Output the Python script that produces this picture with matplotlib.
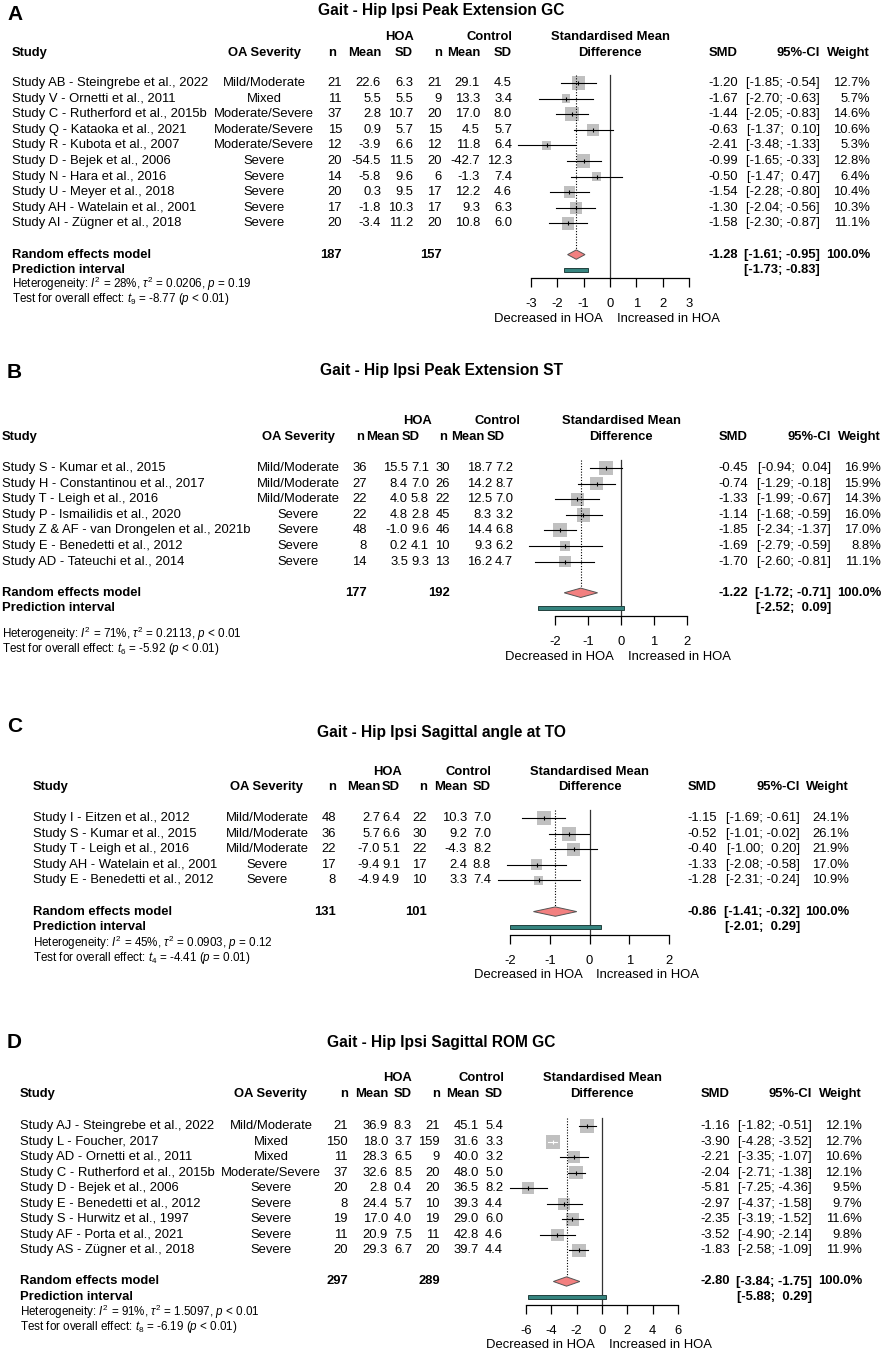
import matplotlib.pyplot as plt
import numpy as np

plt.rcParams['font.family'] = ['Liberation Sans', 'DejaVu Sans']
plt.rcParams['mathtext.fontset'] = 'custom'
plt.rcParams['mathtext.rm'] = 'Liberation Sans'
plt.rcParams['mathtext.it'] = 'Liberation Sans:italic'
plt.rcParams['mathtext.bf'] = 'Liberation Sans:bold'
plt.rcParams['axes.unicode_minus'] = False

W, H = 883, 1350
FS = 9.4
FS_HET = 8.4
FS_TITLE = 11.2

# ---------------- panel A ----------------
a_title = 'Gait - Hip Ipsi Peak Extension GC'
a_study = ['Study AB - Steingrebe et al., 2022', 'Study V - Ornetti et al., 2011',
           'Study C - Rutherford et al., 2015b', 'Study Q - Kataoka et al., 2021',
           'Study R - Kubota et al., 2007', 'Study D - Bejek et al., 2006',
           'Study N - Hara et al., 2016', 'Study U - Meyer et al., 2018',
           'Study AH - Watelain et al., 2001', 'Study AI - Zügner et al., 2018']
a_sev = ['Mild/Moderate', 'Mixed', 'Moderate/Severe', 'Moderate/Severe', 'Moderate/Severe',
         'Severe', 'Severe', 'Severe', 'Severe', 'Severe']
a_hn = [21, 11, 37, 15, 12, 20, 14, 20, 17, 20]
a_hm = [22.6, 5.5, 2.8, 0.9, -3.9, -54.5, -5.8, 0.3, -1.8, -3.4]
a_hs = [6.3, 5.5, 10.7, 5.7, 6.6, 11.5, 9.6, 9.5, 10.3, 11.2]
a_cn = [21, 9, 20, 15, 12, 20, 6, 17, 17, 20]
a_cm = [29.1, 13.3, 17.0, 4.5, 11.8, -42.7, -1.3, 12.2, 9.3, 10.8]
a_cs = [4.5, 3.4, 8.0, 5.7, 6.4, 12.3, 7.4, 4.6, 6.3, 6.0]
a_smd = [-1.20, -1.67, -1.44, -0.63, -2.41, -0.99, -0.50, -1.54, -1.30, -1.58]
a_lo = [-1.85, -2.70, -2.05, -1.37, -3.48, -1.65, -1.47, -2.28, -2.04, -2.30]
a_hi = [-0.54, -0.63, -0.83, 0.10, -1.33, -0.33, 0.47, -0.80, -0.56, -0.87]
a_w = [12.7, 5.7, 14.6, 10.6, 5.3, 12.8, 6.4, 10.4, 10.3, 11.1]
a_pool = [-1.28, -1.61, -0.95]
a_pi = [-1.73, -0.83]
a_tot = [187, 157]
a_het = ['28%', '0.0206', '= 0.19']
a_test = [9, -8.77, '< 0.01']
a_ticks = [-3, -2, -1, 0, 1, 2, 3]

# ---------------- panel B ----------------
b_title = 'Gait - Hip Ipsi Peak Extension ST'
b_study = ['Study S - Kumar et al., 2015', 'Study H - Constantinou et al., 2017',
           'Study T - Leigh et al., 2016', 'Study P - Ismailidis et al., 2020',
           'Study Z & AF - van Drongelen et al., 2021b', 'Study E - Benedetti et al., 2012',
           'Study AD - Tateuchi et al., 2014']
b_sev = ['Mild/Moderate', 'Mild/Moderate', 'Mild/Moderate', 'Severe', 'Severe', 'Severe', 'Severe']
b_hn = [36, 27, 22, 22, 48, 8, 14]
b_hm = [15.5, 8.4, 4.0, 4.8, -1.0, 0.2, 3.5]
b_hs = [7.1, 7.0, 5.8, 2.8, 9.6, 4.1, 9.3]
b_cn = [30, 26, 22, 45, 46, 10, 13]
b_cm = [18.7, 14.2, 12.5, 8.3, 14.4, 9.3, 16.2]
b_cs = [7.2, 8.7, 7.0, 3.2, 6.8, 6.2, 4.7]
b_smd = [-0.45, -0.74, -1.33, -1.14, -1.85, -1.69, -1.70]
b_lo = [-0.94, -1.29, -1.99, -1.68, -2.34, -2.79, -2.60]
b_hi = [0.04, -0.18, -0.67, -0.59, -1.37, -0.59, -0.81]
b_w = [16.9, 15.9, 14.3, 16.0, 17.0, 8.8, 11.1]
b_pool = [-1.22, -1.72, -0.71]
b_pi = [-2.52, 0.09]
b_tot = [177, 192]
b_het = ['71%', '0.2113', '< 0.01']
b_test = [6, -5.92, '< 0.01']
b_ticks = [-2, -1, 0, 1, 2]

# ---------------- panel C ----------------
c_title = 'Gait - Hip Ipsi Sagittal angle at TO'
c_study = ['Study I - Eitzen et al., 2012', 'Study S - Kumar et al., 2015',
           'Study T - Leigh et al., 2016', 'Study AH - Watelain et al., 2001',
           'Study E - Benedetti et al., 2012']
c_sev = ['Mild/Moderate', 'Mild/Moderate', 'Mild/Moderate', 'Severe', 'Severe']
c_hn = [48, 36, 22, 17, 8]
c_hm = [2.7, 5.7, -7.0, -9.4, -4.9]
c_hs = [6.4, 6.6, 5.1, 9.1, 4.9]
c_cn = [22, 30, 22, 17, 10]
c_cm = [10.3, 9.2, -4.3, 2.4, 3.3]
c_cs = [7.0, 7.0, 8.2, 8.8, 7.4]
c_smd = [-1.15, -0.52, -0.40, -1.33, -1.28]
c_lo = [-1.69, -1.01, -1.00, -2.08, -2.31]
c_hi = [-0.61, -0.02, 0.20, -0.58, -0.24]
c_w = [24.1, 26.1, 21.9, 17.0, 10.9]
c_pool = [-0.86, -1.41, -0.32]
c_pi = [-2.01, 0.29]
c_tot = [131, 101]
c_het = ['45%', '0.0903', '= 0.12']
c_test = [4, -4.41, '= 0.01']
c_ticks = [-2, -1, 0, 1, 2]

# ---------------- panel D ----------------
d_title = 'Gait - Hip Ipsi Sagittal ROM GC'
d_study = ['Study AJ - Steingrebe et al., 2022', 'Study L - Foucher, 2017',
           'Study AD - Ornetti et al., 2011', 'Study C - Rutherford et al., 2015b',
           'Study D - Bejek et al., 2006', 'Study E - Benedetti et al., 2012',
           'Study S - Hurwitz et al., 1997', 'Study AF - Porta et al., 2021',
           'Study AS - Zügner et al., 2018']
d_sev = ['Mild/Moderate', 'Mixed', 'Mixed', 'Moderate/Severe', 'Severe', 'Severe',
         'Severe', 'Severe', 'Severe']
d_hn = [21, 150, 11, 37, 20, 8, 19, 11, 20]
d_hm = [36.9, 18.0, 28.3, 32.6, 2.8, 24.4, 17.0, 20.9, 29.3]
d_hs = [8.3, 3.7, 6.5, 8.5, 0.4, 5.7, 4.0, 7.5, 6.7]
d_cn = [21, 159, 9, 20, 20, 10, 19, 11, 20]
d_cm = [45.1, 31.6, 40.0, 48.0, 36.5, 39.3, 29.0, 42.8, 39.7]
d_cs = [5.4, 3.3, 3.2, 5.0, 8.2, 4.4, 6.0, 4.6, 4.4]
d_smd = [-1.16, -3.90, -2.21, -2.04, -5.81, -2.97, -2.35, -3.52, -1.83]
d_lo = [-1.82, -4.28, -3.35, -2.71, -7.25, -4.37, -3.19, -4.90, -2.58]
d_hi = [-0.51, -3.52, -1.07, -1.38, -4.36, -1.58, -1.52, -2.14, -1.09]
d_w = [12.1, 12.7, 10.6, 12.1, 9.5, 9.7, 11.6, 9.8, 11.9]
d_pool = [-2.80, -3.84, -1.75]
d_pi = [-5.88, 0.29]
d_tot = [297, 289]
d_het = ['91%', '1.5097', '< 0.01']
d_test = [8, -6.19, '< 0.01']
d_ticks = [-6, -4, -2, 0, 2, 4, 6]

# pixel layout of each panel (data column right edges; header right edges in 'hdr')
a_pos = dict(label_y=15, title_y=10, h1=37, h2=53, row0=83, step=15.6,
             study=12, sev=264, n1=342, m1=381, s1=413, n2=442, m2=480, s2=512,
             hdr=[336, 381, 413, 442, 480, 512], hoa=400, ctl=489,
             fx0=531, fx1=689, smd=738, ci=820, wt=870, het=284, test=299)
b_pos = dict(label_y=372, title_y=370, h1=421, h2=437, row0=468, step=15.6,
             study=2, sev=298, n1=367, m1=408, s1=429, n2=450, m2=492, s2=513,
             hdr=[364, 399, 420, 447, 484, 505], hoa=418, ctl=497,
             fx0=555, fx1=687, smd=748, ci=831, wt=881, het=634, test=649)
c_pos = dict(label_y=727, title_y=732, h1=772, h2=787, row0=818, step=15.6,
             study=33, sev=267, n1=336, m1=380, s1=400, n2=427, m2=467, s2=491,
             hdr=[336, 380, 400, 427, 467, 491], hoa=387, ctl=468,
             fx0=510, fx1=669, smd=717, ci=800, wt=849, het=943, test=958)
d_pos = dict(label_y=1043, title_y=1043, h1=1078, h2=1094, row0=1126, step=15.55,
             study=20, sev=271, n1=348, m1=388, s1=412, n2=440, m2=479, s2=503,
             hdr=[348, 388, 412, 440, 479, 503], hoa=398, ctl=481,
             fx0=526, fx1=678, smd=730, ci=812, wt=862, het=1312, test=1327)

fig = plt.figure(figsize=(W / 100, H / 100), dpi=100)
bg = fig.add_axes([0, 0, 1, 1])
bg.set_xlim(0, W)
bg.set_ylim(H, 0)
bg.axis('off')


def txt(x, y, s, ha='left', bold=False, size=FS):
    bg.text(x, y, s, ha=ha, va='center', fontsize=size,
            fontweight='bold' if bold else 'normal')


def panel(letter, title, study, sev, hn, hm, hs, cn, cm, cs, smd, lo, hi, w,
          pool, pi, tot, het, test, ticks, p):
    n = len(study)
    step = p['step']
    ppu = (p['fx1'] - p['fx0']) / (ticks[-1] - ticks[0])
    x0 = p['fx0'] - ticks[0] * ppu

    bg.text(7, p['label_y'], letter, fontsize=15, fontweight='bold', va='center')
    bg.text(441, p['title_y'], title, fontsize=FS_TITLE, fontweight='bold', ha='center', va='center')

    # column headers
    txt(p['hoa'], p['h1'], 'HOA', 'center', True)
    txt(p['ctl'], p['h1'], 'Control', 'center', True)
    txt(x0, p['h1'], 'Standardised Mean', 'center', True)
    txt(p['study'], p['h2'], 'Study', bold=True)
    txt(p['sev'], p['h2'], 'OA Severity', 'center', True)
    for xh, s in zip(p['hdr'], ['n', 'Mean', 'SD', 'n', 'Mean', 'SD']):
        txt(xh, p['h2'], s, 'right', True)
    for key, s in [('smd', 'SMD'), ('ci', '95%-CI'), ('wt', 'Weight')]:
        txt(p[key], p['h2'], s, 'right', True)
    txt(x0, p['h2'], 'Difference', 'center', True)

    for i in range(n):
        y = p['row0'] + i * step
        txt(p['study'], y, study[i])
        txt(p['sev'], y, sev[i], 'center')
        txt(p['n1'], y, str(hn[i]), 'right')
        txt(p['m1'], y, f'{hm[i]:.1f}', 'right')
        txt(p['s1'], y, f'{hs[i]:.1f}', 'right')
        txt(p['n2'], y, str(cn[i]), 'right')
        txt(p['m2'], y, f'{cm[i]:.1f}', 'right')
        txt(p['s2'], y, f'{cs[i]:.1f}', 'right')
        txt(p['smd'], y, f'{smd[i]:.2f}', 'right')
        txt(p['ci'], y, f'[{lo[i]:5.2f}; {hi[i]:5.2f}]', 'right')
        txt(p['wt'], y, f'{w[i]:.1f}%', 'right')

    y_re = p['row0'] + (n + 1) * step
    y_pi = p['row0'] + (n + 2) * step
    txt(p['study'], y_re, 'Random effects model', bold=True)
    txt(p['n1'], y_re, str(tot[0]), 'right', True)
    txt(p['n2'], y_re, str(tot[1]), 'right', True)
    txt(p['smd'], y_re, f'{pool[0]:.2f}', 'right', True)
    txt(p['ci'], y_re, f'[{pool[1]:5.2f}; {pool[2]:5.2f}]', 'right', True)
    txt(p['wt'], y_re, '100.0%', 'right', True)
    txt(p['study'], y_pi, 'Prediction interval', bold=True)
    txt(p['ci'], y_pi, f'[{pi[0]:5.2f}; {pi[1]:5.2f}]', 'right', True)
    txt(p['study'], p['het'],
        f'Heterogeneity: $I^2$ = {het[0]}, $\\tau^2$ = {het[1]}, $p$ {het[2]}', size=FS_HET)
    txt(p['study'], p['test'],
        f'Test for overall effect: $t_{{{test[0]}}}$ = {test[1]:.2f} ($p$ {test[2]})', size=FS_HET)

    # forest part
    top = p['row0'] - 0.5 * step
    bot = p['row0'] + (n + 2.5) * step
    fax = fig.add_axes([p['fx0'] / W, 1 - bot / H, (p['fx1'] - p['fx0']) / W, (bot - top) / H])
    fax.set_xlim(ticks[0], ticks[-1])
    fax.set_ylim(n + 2.5, -0.5)
    fax.patch.set_alpha(0)
    for s in ['top', 'left', 'right']:
        fax.spines[s].set_visible(False)
    fax.spines['bottom'].set_linewidth(0.9)
    fax.set_yticks([])
    fax.set_xticks(ticks)
    fax.tick_params(axis='x', direction='out', length=6.5, width=0.9, labelsize=FS, pad=8)

    rows = np.arange(n)
    side = 14 * np.sqrt(np.array(w) / max(w))
    fax.scatter(smd, rows, marker='s', s=(side * 0.72) ** 2, color='#c0c0c0',
                edgecolors='none', zorder=2, clip_on=False)
    for i in range(n):
        inside = (hi[i] - lo[i]) * ppu < side[i]
        col = 'white' if inside else 'black'
        fax.plot([lo[i], hi[i]], [i, i], color=col, lw=0.8, zorder=3, clip_on=False)
        fax.plot([smd[i]], [i], marker='|', ms=3.5, mew=0.8, color=col, zorder=4, clip_on=False)

    fax.plot([0, 0], [-0.5, n + 2.5], color='#333333', lw=0.9, clip_on=False)
    fax.plot([pool[0], pool[0]], [-0.5, n + 0.7], color='black', lw=0.8,
             ls=(0, (1, 1.5)), clip_on=False)
    fax.fill([pool[1], pool[0], pool[2], pool[0]], [n + 1, n + 0.7, n + 1, n + 1.3],
             facecolor='#f28080', edgecolor='#555555', lw=0.7, zorder=3, clip_on=False)
    fax.add_patch(plt.Rectangle((pi[0], n + 2 - 0.13), pi[1] - pi[0], 0.26,
                                facecolor='#35847f', edgecolor='#22403e', lw=0.7,
                                zorder=3, clip_on=False))

    fax.annotate('Decreased in HOA', xy=(0, 0), xycoords=('data', 'axes fraction'),
                 xytext=(-5, -40.5 * 0.72), textcoords='offset points',
                 ha='right', va='center', fontsize=FS)
    fax.annotate('Increased in HOA', xy=(0, 0), xycoords=('data', 'axes fraction'),
                 xytext=(5, -40.5 * 0.72), textcoords='offset points',
                 ha='left', va='center', fontsize=FS)


panel('A', a_title, a_study, a_sev, a_hn, a_hm, a_hs, a_cn, a_cm, a_cs,
      a_smd, a_lo, a_hi, a_w, a_pool, a_pi, a_tot, a_het, a_test, a_ticks, a_pos)
panel('B', b_title, b_study, b_sev, b_hn, b_hm, b_hs, b_cn, b_cm, b_cs,
      b_smd, b_lo, b_hi, b_w, b_pool, b_pi, b_tot, b_het, b_test, b_ticks, b_pos)
panel('C', c_title, c_study, c_sev, c_hn, c_hm, c_hs, c_cn, c_cm, c_cs,
      c_smd, c_lo, c_hi, c_w, c_pool, c_pi, c_tot, c_het, c_test, c_ticks, c_pos)
panel('D', d_title, d_study, d_sev, d_hn, d_hm, d_hs, d_cn, d_cm, d_cs,
      d_smd, d_lo, d_hi, d_w, d_pool, d_pi, d_tot, d_het, d_test, d_ticks, d_pos)

fig.savefig('out.png', dpi=100)
